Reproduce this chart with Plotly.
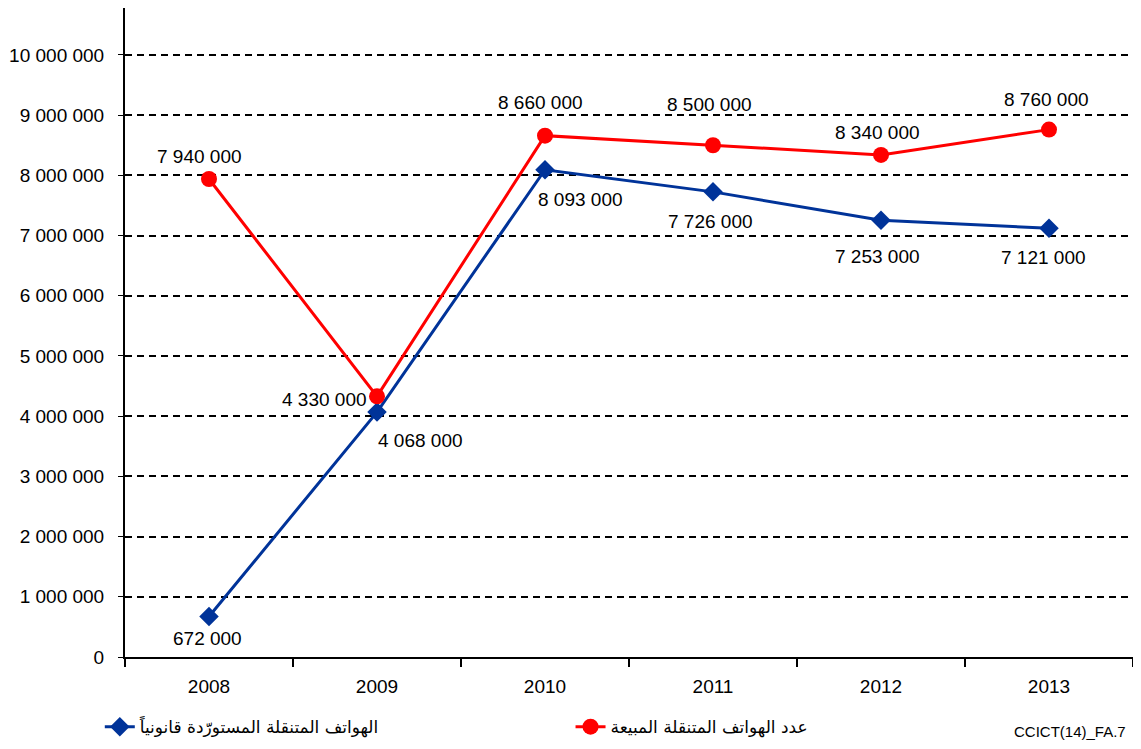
import plotly.graph_objects as go

years = ["2008", "2009", "2010", "2011", "2012", "2013"]
imported = [672000, 4068000, 8093000, 7726000, 7253000, 7121000]
sold = [7940000, 4330000, 8660000, 8500000, 8340000, 8760000]
name_imported = "الهواتف المتنقلة المستورّدة قانونياً"
name_sold = "عدد الهواتف المتنقلة المبيعة"
y_ticks = [0, 1000000, 2000000, 3000000, 4000000, 5000000, 6000000, 7000000, 8000000, 9000000, 10000000]

# label offsets in pixels (style only)
sold_off = [(-10, 22), (-8, -3), (-5, 33), (-4, 41), (-4, 22), (-3, 30)]
sold_anchor = ["center", "right", "center", "center", "center", "center"]
imp_off = [(-2, -22), (43, -28), (35, -30), (-3, -30), (-4, -36), (-6, -29)]

def fmt(v):
    return f"{v:,}".replace(",", " ")

RED = "#FF0000"
BLUE = "#003399"
FONT = "Liberation Sans, Arial, sans-serif"
ARFONT = "DejaVu Sans, sans-serif"
FS = 19

fig = go.Figure()
fig.add_trace(go.Scatter(x=years, y=imported, mode="lines+markers", name=name_imported,
                         line=dict(color=BLUE, width=3), legend="legend",
                         marker=dict(symbol="diamond", size=15, color=BLUE)))
fig.add_trace(go.Scatter(x=years, y=sold, mode="lines+markers", name=name_sold,
                         line=dict(color=RED, width=3), legend="legend2",
                         marker=dict(symbol="circle", size=16, color=RED)))

for i, v in enumerate(sold):
    dx, dy = sold_off[i]
    fig.add_annotation(x=i, y=v, xref="x", yref="y", text=fmt(v), showarrow=False,
                       xshift=dx, yshift=dy, xanchor=sold_anchor[i],
                       font=dict(size=FS, color="black", family=FONT))
for i, v in enumerate(imported):
    dx, dy = imp_off[i]
    fig.add_annotation(x=i, y=v, xref="x", yref="y", text=fmt(v), showarrow=False,
                       xshift=dx, yshift=dy,
                       font=dict(size=FS, color="black", family=FONT))

fig.add_annotation(xref="paper", yref="paper", x=0.995, y=-0.115, xanchor="right", yanchor="middle",
                   text="CCICT(14)_FA.7", showarrow=False,
                   font=dict(size=15, color="black", family=FONT))

leg_common = dict(orientation="h", yanchor="middle", y=-0.108, xanchor="left",
                  font=dict(size=17, family=ARFONT, color="black"),
                  bgcolor="rgba(0,0,0,0)")

# page body has an 8px margin, so the figure is sized/offset to compensate
fig.update_layout(
    width=1133, height=741,
    margin=dict(l=117, r=8, t=0, b=92, autoexpand=False),
    paper_bgcolor="white", plot_bgcolor="white",
    font=dict(family=FONT, size=FS, color="black"),
    showlegend=True,
    legend=dict(x=-0.025, **leg_common),
    legend2=dict(x=0.442, **leg_common),
    xaxis=dict(type="category", tickson="boundaries", ticks="outside", ticklen=8, tickwidth=1.5,
               tickcolor="black", showline=True, linecolor="black", linewidth=2,
               showgrid=False, range=[-0.5, 5.5], tickfont=dict(size=FS),
               ticklabelstandoff=11, automargin=False),
    yaxis=dict(range=[0, 10780000], tickvals=y_ticks, ticktext=[fmt(v) for v in y_ticks],
               ticks="outside", ticklen=5, tickcolor="black", showline=True, linecolor="black",
               linewidth=2, showgrid=True, gridcolor="black", griddash="7px,5px", gridwidth=2,
               zeroline=False, tickfont=dict(size=FS), ticklabelstandoff=10, automargin=False),
)

fig.write_html("out.html")
